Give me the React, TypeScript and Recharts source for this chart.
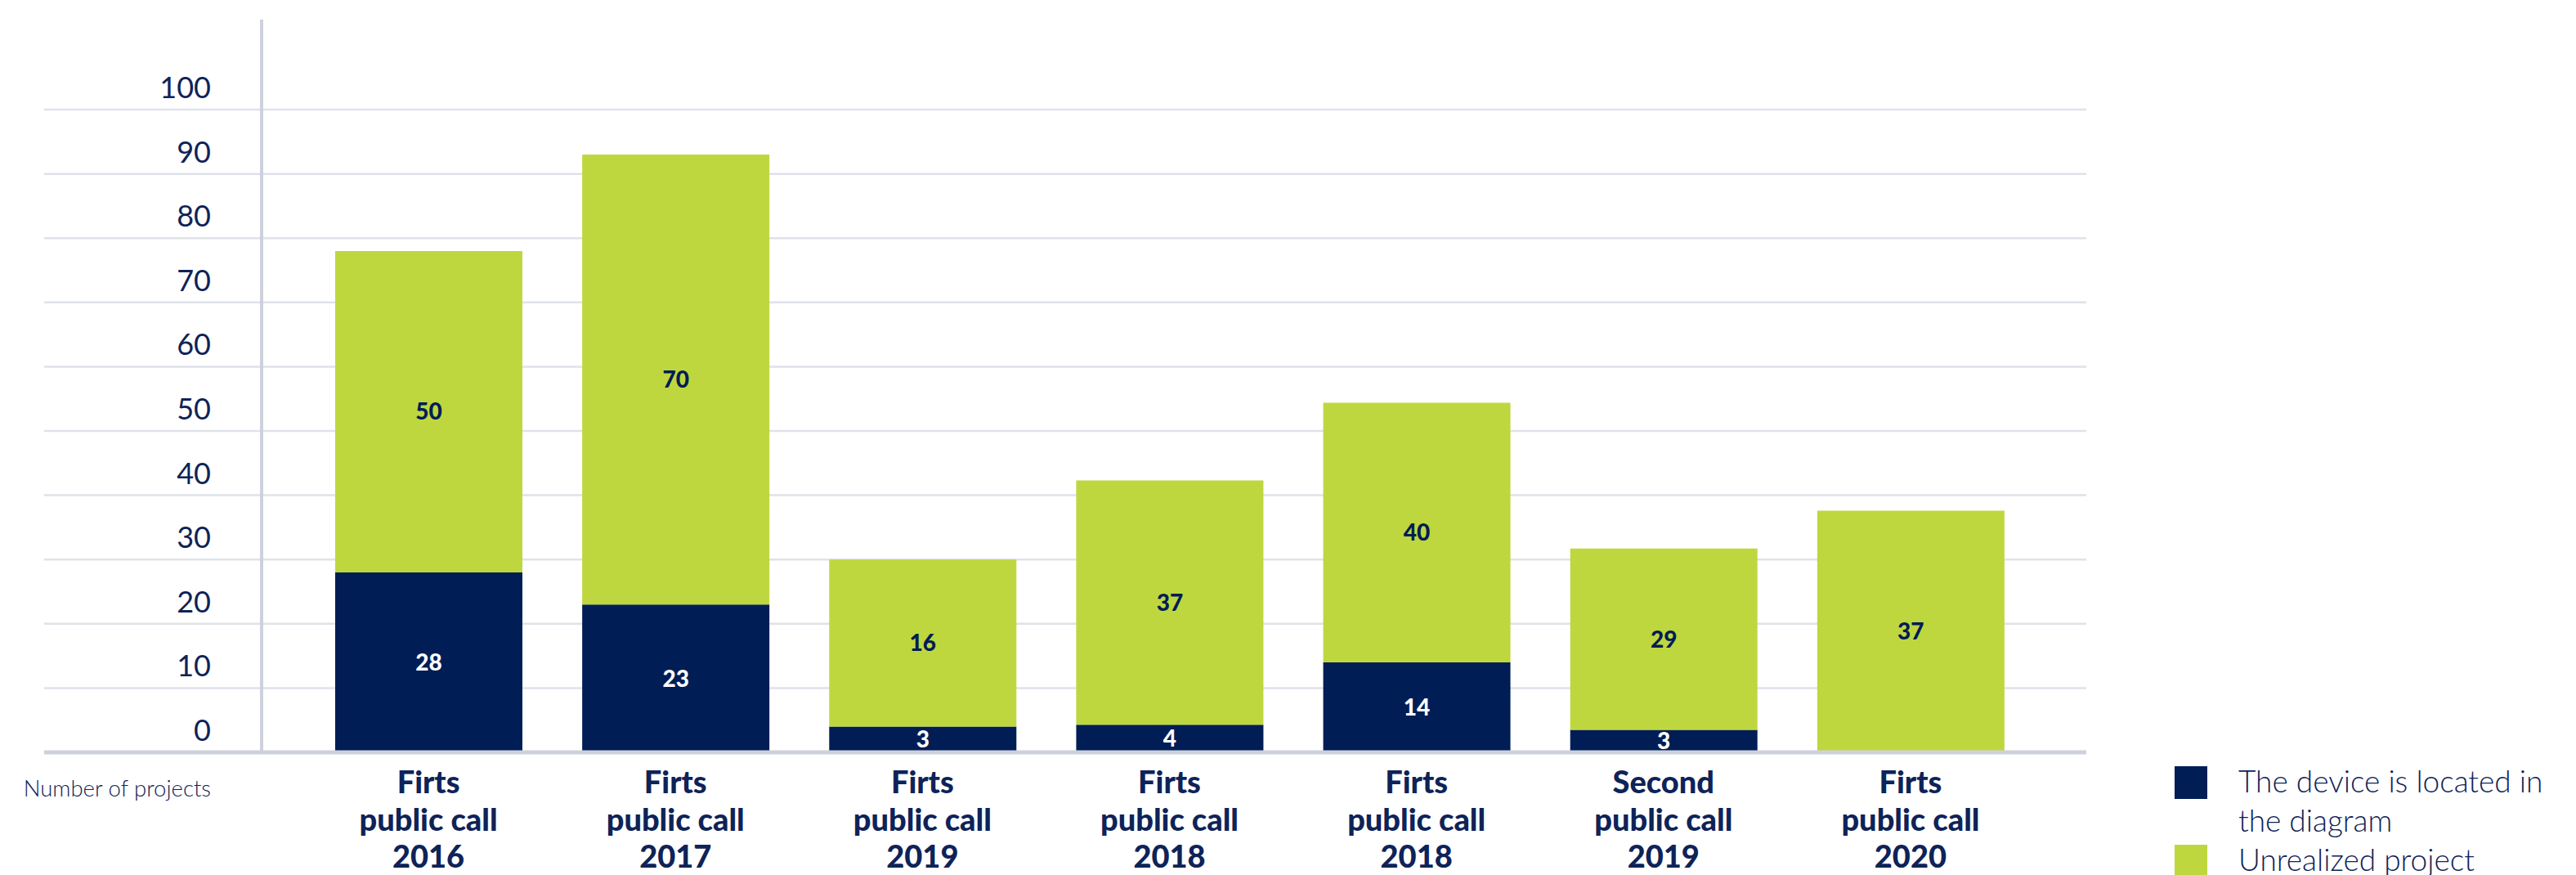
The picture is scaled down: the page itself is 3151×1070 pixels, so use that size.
import React from "react";
import {
  BarChart,
  Bar,
  XAxis,
  YAxis,
  CartesianGrid,
  Legend,
  LabelList,
  Label,
} from "recharts";

const callNames = ["Firts", "Firts", "Firts", "Firts", "Firts", "Second", "Firts"];
const callYears = ["2016", "2017", "2019", "2018", "2018", "2019", "2020"];

// bar heights as drawn in the picture
const deviceLocated = [28, 23, 4, 4.3, 14, 3.5, 0];
const unrealized = [50, 70, 26, 38, 40.4, 28.2, 37.6];

// numbers printed on the segments
const deviceLabels = ["28", "23", "3", "4", "14", "3", ""];
const unrealizedLabels = ["50", "70", "16", "37", "40", "29", "37"];

const yTicks = [0, 10, 20, 30, 40, 50, 60, 70, 80, 90, 100];

const NAVY = "#011d55";
const GREEN = "#bfd73e";
const INK = "#0e2358";
const GRID = "#dfe2ea";
const AXIS = "#cdd1dd";

const data = callNames.map((name, i) => ({
  category: `${name} public call ${callYears[i]}`,
  device: deviceLocated[i],
  unrealized: unrealized[i],
  deviceLabel: deviceLabels[i],
  unrealizedLabel: unrealizedLabels[i],
}));

function CategoryTick({ x, y, index }: any) {
  const lines = [callNames[index], "public call", callYears[index]];
  return (
    <text
      textAnchor="middle"
      fill={INK}
      fontFamily="Lato"
      fontWeight={900}
      fontSize={38}
    >
      {lines.map((line, i) => (
        <tspan key={i} x={x} y={y + 50 + i * 45.5}>
          {line}
        </tspan>
      ))}
    </text>
  );
}

function ValueTick({ x, y, payload }: any) {
  return (
    <text
      x={x + 204}
      y={y - 27}
      dy="0.36em"
      textAnchor="end"
      fill={INK}
      fontFamily="Lato"
      fontWeight={400}
      fontSize={36}
    >
      {payload.value}
    </text>
  );
}

function LegendBox({ payload }: any) {
  return (
    <div
      style={{
        fontFamily: "Lato",
        fontWeight: 300,
        fontSize: 37,
        lineHeight: "48px",
        color: INK,
      }}
    >
      {(payload || []).map((entry: any) => (
        <div key={entry.value} style={{ display: "flex", alignItems: "flex-start" }}>
          <span
            style={{
              width: 40,
              height: 40,
              marginTop: 6,
              marginRight: 38,
              flex: "none",
              background: entry.color,
            }}
          />
          <span style={{ width: 412 }}>{entry.value}</span>
        </div>
      ))}
    </div>
  );
}

export default function App() {
  return (
    <div style={{ position: "absolute", left: 0, top: 0, background: "#fff" }}>
      <BarChart
        width={3151}
        height={1070}
        data={data}
        margin={{ top: 24, right: 599, bottom: 0, left: 0 }}
        style={{ fontFamily: "Lato" }}
      >
        <CartesianGrid
          vertical={false}
          syncWithTicks
          stroke={GRID}
          strokeWidth={2.5}
        />
        <CartesianGrid
          horizontal={false}
          verticalPoints={[320]}
          stroke={AXIS}
          strokeWidth={4}
        />
        <XAxis
          dataKey="category"
          height={150}
          padding={{ left: 319, right: 64 }}
          tickLine={false}
          tickSize={0}
          tickMargin={0}
          interval={0}
          axisLine={{ stroke: AXIS, strokeWidth: 5 }}
          tick={<CategoryTick />}
        />
        <YAxis
          width={54}
          domain={[0, 114]}
          ticks={yTicks}
          axisLine={false}
          tickLine={false}
          tickSize={0}
          tickMargin={0}
          tick={<ValueTick />}
        >
          <Label
            content={(props: any) => {
              const vb = props.viewBox;
              return (
                <text
                  x={vb.x + vb.width + 204}
                  y={vb.y + vb.height + 54}
                  textAnchor="end"
                  fill={INK}
                  fontFamily="Lato"
                  fontWeight={300}
                  fontSize={27.5}
                >
                  Number of projects
                </text>
              );
            }}
          />
        </YAxis>
        <Legend
          layout="vertical"
          align="center"
          verticalAlign="middle"
          content={<LegendBox />}
          wrapperStyle={{ left: 2660, top: 931, width: 491 }}
        />
        <Bar
          dataKey="device"
          name="The device is located in the diagram"
          stackId="a"
          fill={NAVY}
          barSize={229}
          isAnimationActive={false}
        >
          <LabelList
            dataKey="deviceLabel"
            position="center"
            fill="#ffffff"
            fontFamily="Lato"
            fontWeight={900}
            fontSize={28}
          />
        </Bar>
        <Bar
          dataKey="unrealized"
          name="Unrealized project"
          stackId="a"
          fill={GREEN}
          barSize={229}
          isAnimationActive={false}
        >
          <LabelList
            dataKey="unrealizedLabel"
            position="center"
            fill={NAVY}
            fontFamily="Lato"
            fontWeight={900}
            fontSize={28}
          />
        </Bar>
      </BarChart>
    </div>
  );
}
